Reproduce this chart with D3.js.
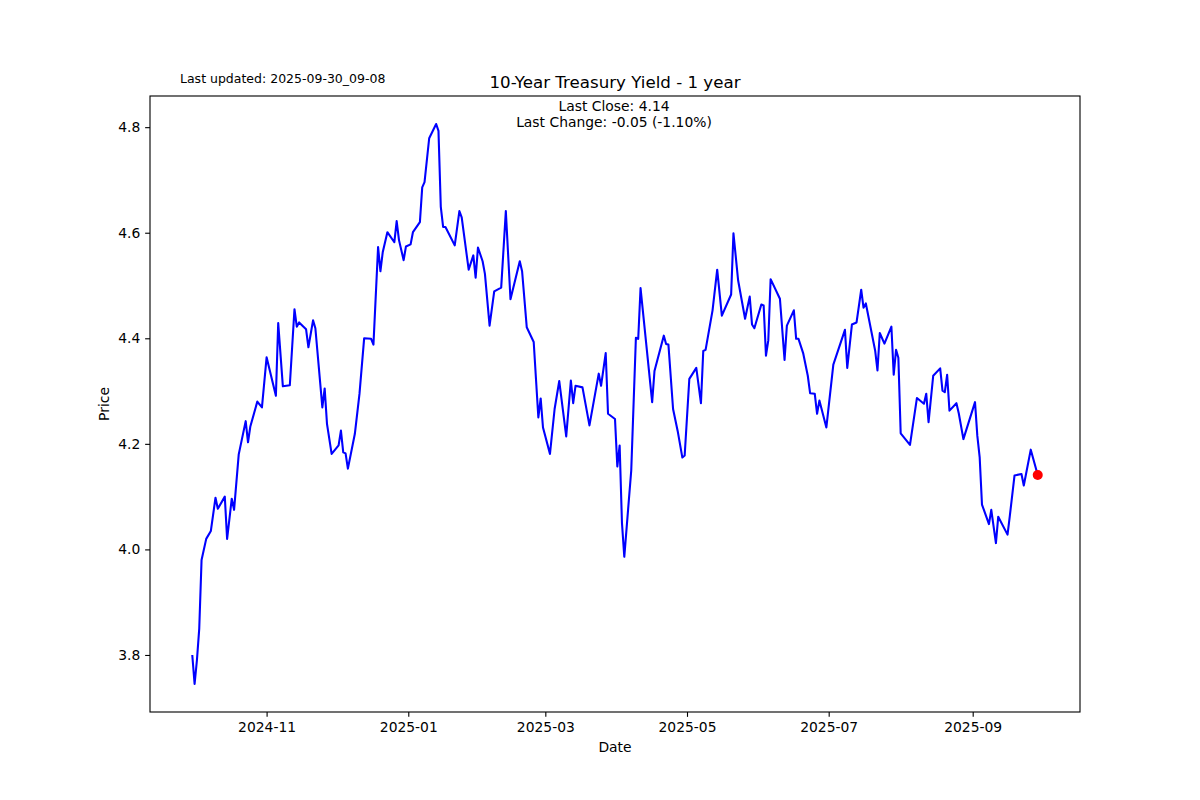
<!DOCTYPE html>
<html><head><meta charset="utf-8">
<script src="https://cdn.jsdelivr.net/npm/d3@7"></script>
<style>body{margin:0;background:#fff} svg text{font-family:"DejaVu Sans",sans-serif;fill:#000}</style>
</head><body><svg id="c" width="1200" height="800"></svg>
<script>
const dates = ["2024-09-30","2024-10-01","2024-10-02","2024-10-03","2024-10-04","2024-10-06","2024-10-08","2024-10-10","2024-10-11","2024-10-14","2024-10-15","2024-10-17","2024-10-18","2024-10-20","2024-10-23","2024-10-24","2024-10-25","2024-10-28","2024-10-30","2024-11-01","2024-11-05","2024-11-06","2024-11-08","2024-11-11","2024-11-13","2024-11-14","2024-11-15","2024-11-18","2024-11-19","2024-11-21","2024-11-22","2024-11-25","2024-11-26","2024-11-27","2024-11-29","2024-12-02","2024-12-03","2024-12-04","2024-12-05","2024-12-06","2024-12-09","2024-12-11","2024-12-13","2024-12-16","2024-12-17","2024-12-19","2024-12-20","2024-12-21","2024-12-23","2024-12-26","2024-12-27","2024-12-28","2024-12-30","2024-12-31","2025-01-02","2025-01-03","2025-01-06","2025-01-07","2025-01-08","2025-01-10","2025-01-13","2025-01-14","2025-01-15","2025-01-16","2025-01-17","2025-01-21","2025-01-23","2025-01-24","2025-01-27","2025-01-29","2025-01-30","2025-01-31","2025-02-02","2025-02-03","2025-02-05","2025-02-07","2025-02-10","2025-02-12","2025-02-14","2025-02-18","2025-02-19","2025-02-21","2025-02-24","2025-02-26","2025-02-27","2025-02-28","2025-03-03","2025-03-05","2025-03-07","2025-03-10","2025-03-12","2025-03-13","2025-03-14","2025-03-17","2025-03-20","2025-03-24","2025-03-25","2025-03-27","2025-03-28","2025-03-31","2025-04-01","2025-04-02","2025-04-03","2025-04-04","2025-04-07","2025-04-09","2025-04-10","2025-04-11","2025-04-16","2025-04-17","2025-04-21","2025-04-22","2025-04-23","2025-04-25","2025-04-27","2025-04-29","2025-04-30","2025-05-02","2025-05-05","2025-05-07","2025-05-08","2025-05-09","2025-05-12","2025-05-14","2025-05-16","2025-05-20","2025-05-21","2025-05-23","2025-05-26","2025-05-28","2025-05-29","2025-05-30","2025-06-02","2025-06-03","2025-06-04","2025-06-05","2025-06-06","2025-06-10","2025-06-12","2025-06-13","2025-06-16","2025-06-17","2025-06-18","2025-06-20","2025-06-22","2025-06-23","2025-06-25","2025-06-26","2025-06-27","2025-06-30","2025-07-03","2025-07-08","2025-07-09","2025-07-11","2025-07-13","2025-07-15","2025-07-16","2025-07-17","2025-07-21","2025-07-22","2025-07-23","2025-07-25","2025-07-28","2025-07-29","2025-07-30","2025-07-31","2025-08-01","2025-08-05","2025-08-08","2025-08-11","2025-08-12","2025-08-13","2025-08-15","2025-08-18","2025-08-19","2025-08-20","2025-08-21","2025-08-22","2025-08-25","2025-08-26","2025-08-28","2025-09-02","2025-09-03","2025-09-04","2025-09-05","2025-09-08","2025-09-09","2025-09-11","2025-09-12","2025-09-16","2025-09-17","2025-09-19","2025-09-22","2025-09-23","2025-09-26","2025-09-29"];
const yields = [3.80,3.745,3.79,3.85,3.98,4.02,4.035,4.098,4.077,4.10,4.02,4.096,4.075,4.18,4.243,4.203,4.233,4.28,4.269,4.364,4.291,4.429,4.309,4.311,4.455,4.422,4.43,4.417,4.383,4.434,4.419,4.269,4.305,4.238,4.181,4.197,4.225,4.184,4.182,4.153,4.219,4.295,4.40,4.399,4.388,4.573,4.527,4.563,4.601,4.582,4.622,4.586,4.548,4.574,4.578,4.601,4.62,4.686,4.696,4.779,4.806,4.793,4.649,4.611,4.611,4.576,4.641,4.629,4.53,4.557,4.515,4.572,4.546,4.522,4.424,4.489,4.496,4.641,4.474,4.546,4.527,4.421,4.393,4.25,4.286,4.231,4.181,4.266,4.319,4.214,4.32,4.277,4.31,4.307,4.235,4.333,4.31,4.372,4.257,4.247,4.157,4.197,4.05,3.986,4.15,4.401,4.399,4.495,4.279,4.338,4.405,4.389,4.388,4.266,4.224,4.174,4.178,4.323,4.344,4.277,4.376,4.378,4.453,4.53,4.443,4.483,4.599,4.51,4.437,4.479,4.426,4.419,4.464,4.462,4.367,4.396,4.512,4.475,4.359,4.424,4.453,4.399,4.399,4.372,4.329,4.296,4.295,4.257,4.282,4.231,4.35,4.416,4.344,4.426,4.43,4.492,4.458,4.466,4.377,4.339,4.41,4.39,4.422,4.331,4.378,4.363,4.22,4.198,4.287,4.276,4.295,4.241,4.329,4.343,4.301,4.298,4.331,4.263,4.277,4.258,4.209,4.279,4.215,4.175,4.085,4.048,4.075,4.012,4.062,4.028,4.064,4.14,4.143,4.121,4.189,4.141];
const xTickLabels = ["2024-11","2025-01","2025-03","2025-05","2025-07","2025-09"];
const yTickLabels = ["3.8","4.0","4.2","4.4","4.6","4.8"];
const titleText = "10-Year Treasury Yield - 1 year";
const updatedText = "Last updated: 2025-09-30_09-08";
const closeLines = ["Last Close: 4.14", "Last Change: -0.05 (-1.10%)"];

const pt = 100 / 72;
const svg = d3.select("#c");
const L = 150, R = 1080, T = 96, B = 712;
const parse = d3.timeParse("%Y-%m-%d");
const data = dates.map((d, i) => ({ date: parse(d), v: yields[i] }));

const xe = d3.extent(data, d => d.date);
const xpad = (xe[1] - xe[0]) * 0.05;
const x = d3.scaleTime().domain([new Date(+xe[0] - xpad), new Date(+xe[1] + xpad)]).range([L, R]);
const ye = d3.extent(data, d => d.v);
const ypad = (ye[1] - ye[0]) * 0.05;
const y = d3.scaleLinear().domain([ye[0] - ypad, ye[1] + ypad]).range([B, T]);

// line
const line = d3.line().x(d => x(d.date)).y(d => y(d.v));
svg.append("path").datum(data).attr("d", line)
  .attr("fill", "none").attr("stroke", "#0000ff").attr("stroke-width", 1.5 * pt)
  .attr("stroke-linejoin", "round");

// last point
const last = data[data.length - 1];
svg.append("circle").attr("cx", x(last.date)).attr("cy", y(last.v)).attr("r", 5).attr("fill", "#ff0000");

// axes
const tick = 3.5 * pt;
const xAxis = d3.axisBottom(x)
  .tickValues(xTickLabels.map(d3.timeParse("%Y-%m")))
  .tickFormat(d3.timeFormat("%Y-%m")).tickSizeInner(tick).tickSizeOuter(0).tickPadding(tick);
const gx = svg.append("g").attr("transform", `translate(0,${B})`).call(xAxis);
const yAxis = d3.axisLeft(y).tickValues(yTickLabels.map(Number))
  .tickFormat(d3.format(".1f")).tickSizeInner(tick).tickSizeOuter(0).tickPadding(tick);
const gy = svg.append("g").attr("transform", `translate(${L},0)`).call(yAxis);
[gx, gy].forEach(g => {
  g.select(".domain").remove();
  g.selectAll(".tick line").attr("stroke", "#000").attr("stroke-width", 0.8 * pt);
  g.selectAll(".tick text").style("font-size", (10 * pt) + "px").attr("fill", "#000");
});

// frame
svg.append("rect").attr("x", L).attr("y", T).attr("width", R - L).attr("height", B - T)
  .attr("fill", "none").attr("stroke", "#000").attr("stroke-width", 0.8 * pt);

// labels
svg.append("text").attr("x", (L + R) / 2).attr("y", 752).attr("text-anchor", "middle")
  .style("font-size", (10 * pt) + "px").text("Date");
svg.append("text").attr("transform", `translate(109,${(T + B) / 2}) rotate(-90)`)
  .attr("text-anchor", "middle").style("font-size", (10 * pt) + "px").text("Price");
svg.append("text").attr("x", (L + R) / 2).attr("y", 88).attr("text-anchor", "middle")
  .style("font-size", (12 * pt) + "px").text(titleText);
svg.append("text").attr("x", 180).attr("y", 82.5).style("font-size", (9 * pt) + "px").text(updatedText);
closeLines.forEach((t, i) => {
  svg.append("text").attr("x", (L + R) / 2 - 1).attr("y", 111 + i * 16.2)
    .attr("text-anchor", "middle").style("font-size", (10 * pt) + "px").text(t);
});
</script></body></html>
